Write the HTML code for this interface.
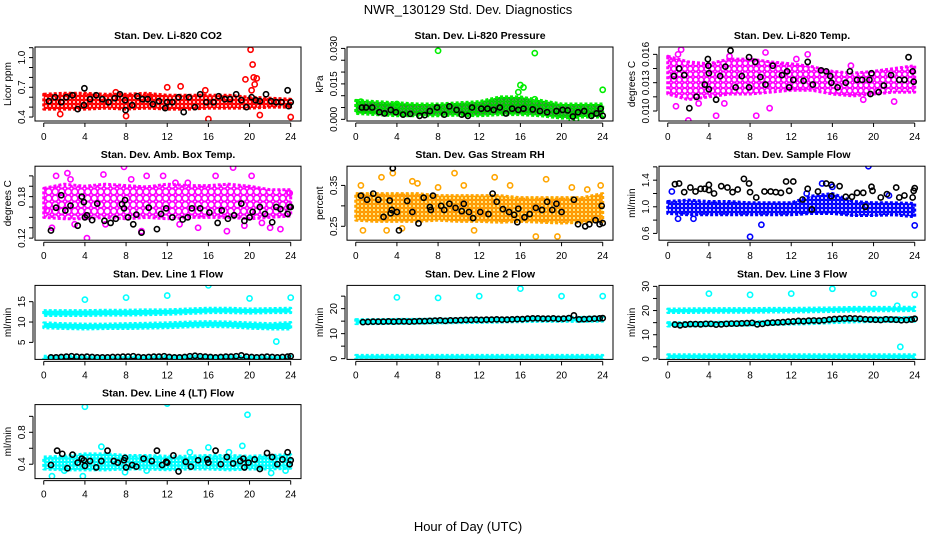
<!DOCTYPE html>
<html><head><meta charset="utf-8"><style>
body{margin:0;background:#fff}
svg{display:block;font-family:"Liberation Sans",sans-serif}
</style></head><body>
<svg id="chart" width="936" height="540" viewBox="0 0 936 540" xmlns="http://www.w3.org/2000/svg">
<text x="468" y="14" font-size="13" text-anchor="middle">NWR_130129  Std. Dev. Diagnostics</text>
<text x="468" y="531" font-size="13" text-anchor="middle">Hour of Day (UTC)</text>
</svg>
<script>
const bandHours=[0,2,4,6,8,10,12,14,16,18,20,22,24];
const xTicks=[0,4,8,12,16,20,24];
const blackHours=[0.7,1.2,1.7,2.2,2.7,3.2,3.7,4.2,4.7,5.2,5.7,6.2,6.7,7.2,7.7,8.2,8.7,9.2,9.7,10.2,10.7,11.2,11.7,12.2,12.7,13.2,13.7,14.2,14.7,15.2,15.7,16.2,16.7,17.2,17.7,18.2,18.7,19.2,19.7,20.2,20.7,21.2,21.7,22.2,22.7,23.2,23.7,24];

const co2Lo=[0.48,0.48,0.48,0.49,0.48,0.49,0.48,0.48,0.49,0.49,0.49,0.5,0.5];
const co2Hi=[0.63,0.64,0.64,0.63,0.63,0.64,0.62,0.62,0.62,0.62,0.6,0.59,0.58];
const co2OutH=[20.1,20.3,20.4,20.7,19.6,20.5,20.2,21,24,16,13.3,12,1.6,8,15.7,7];
const co2OutV=[1.08,0.93,0.80,0.79,0.78,0.73,0.67,0.42,0.40,0.38,0.71,0.70,0.43,0.41,0.67,0.65];
const co2BkH=[0.5,1.1,1.7,2.2,2.8,3.3,3.9,3.95,4.5,5.1,5.7,6.3,6.9,7.4,7.9,7.95,8.6,9.1,9.6,10.1,10.6,11.2,11.8,12,12.5,13.1,13.6,14.1,14.7,15.2,15.8,16.5,17,17.6,18.1,18.7,19.2,19.7,20.2,20.6,21,21.6,22.1,22.6,23.1,23.7,23.8,24];
const co2BkV=[0.56,0.6,0.55,0.6,0.62,0.48,0.52,0.69,0.58,0.62,0.58,0.55,0.59,0.63,0.57,0.47,0.52,0.61,0.58,0.58,0.53,0.56,0.49,0.55,0.55,0.60,0.45,0.6,0.5,0.63,0.55,0.55,0.61,0.58,0.58,0.63,0.57,0.5,0.6,0.57,0.56,0.63,0.56,0.55,0.55,0.67,0.51,0.55];

const presLo=[0.0025,0.002,0.0015,0.0015,0.0015,0.0018,0.0015,0.002,0.002,0.0015,0.0005,0.001,0.001];
const presHi=[0.008,0.0075,0.007,0.0065,0.0065,0.007,0.0075,0.0095,0.0095,0.008,0.0065,0.0065,0.0065];
const presOutH=[8,17.4,24,16,16.3,15.8,17.4,0.5,4,21,21.4];
const presOutV=[0.029,0.028,0.0125,0.0145,0.0135,0.0115,0.0085,0.0075,0.0065,-0.0003,0.0];
const presBkH=[0.6,1,1.6,2.3,2.8,3.4,3.9,4.6,5.3,6.2,6.7,7.2,7.9,8.6,9.1,9.8,10.3,10.9,11.3,12.2,12.8,13.4,14,14.6,15.2,15.8,16.3,17.2,17.9,18.6,19.5,20.1,20.6,21.1,21.6,22.2,22.9,23.4,23.8,24];
const presBkV=[0.005,0.005,0.005,0.003,0.0025,0.004,0.003,0.002,0.0023,0.0015,0.0018,0.0035,0.005,0.002,0.0055,0.004,0.002,0.0015,0.005,0.0045,0.0045,0.004,0.005,0.0025,0.0045,0.004,0.0045,0.0042,0.0035,0.003,0.0035,0.004,0.0038,0.0012,0.003,0.0035,0.0015,0.0025,0.0045,0.0015];

const tempLo=[0.0118,0.0112,0.0115,0.0118,0.0118,0.012,0.0122,0.0122,0.0118,0.0116,0.0118,0.012,0.012];
const tempHi=[0.0158,0.0152,0.015,0.0155,0.0155,0.0152,0.015,0.0147,0.0142,0.014,0.0142,0.0145,0.0148];
const tempOutH=[0.5,2,4.7,9.5,8.6,1,17.8,13.6,0.8,3,6,9.9,12.5,19,22,1.3,5.5];
const tempOutV=[0.0173,0.009,0.0095,0.0162,0.0095,0.016,0.0148,0.016,0.0105,0.0108,0.0158,0.0103,0.0155,0.0112,0.011,0.0165,0.0108];
const tempBkH=[0.6,1.1,1.6,2.1,2.8,3.6,3.9,3.95,4,4,4.7,5.1,5.6,6.1,6.6,7.2,7.9,7.9,8.5,9,9.5,10.2,11.1,11.6,11.8,12.2,13.2,13.6,14.1,14.9,15.4,15.8,15.9,16.5,17.3,17.7,18.4,18.9,19.6,19.7,19.8,20.5,21,21.7,22.5,23,23.4,23.8,23.9];
const tempBkV=[0.0137,0.0145,0.0138,0.0103,0.0115,0.0128,0.0155,0.0148,0.014,0.0123,0.0112,0.0137,0.0147,0.0164,0.0125,0.0137,0.0157,0.0125,0.0152,0.0136,0.0128,0.0148,0.0138,0.0142,0.0125,0.0133,0.0132,0.0152,0.0128,0.0143,0.0142,0.0137,0.013,0.0125,0.013,0.0142,0.0133,0.0133,0.0133,0.0118,0.014,0.012,0.0127,0.0138,0.0133,0.0133,0.0157,0.0142,0.0131];

const ambLo=[0.15,0.148,0.148,0.15,0.148,0.15,0.148,0.15,0.15,0.15,0.148,0.15,0.152];
const ambHi=[0.192,0.198,0.195,0.198,0.196,0.194,0.198,0.196,0.196,0.198,0.195,0.19,0.19];
const ambOutH=[0.8,1.2,2.3,4.2,5.8,7.8,10,11.6,14,16.7,18.4,20.2,22,23,23.9,2.6,9.5,17.8,6,15,3,8.5,12.8,19.5,21.2,0.3,13.2];
const ambOutV=[0.135,0.21,0.214,0.12,0.212,0.223,0.21,0.21,0.2,0.21,0.222,0.21,0.135,0.133,0.185,0.205,0.13,0.13,0.14,0.135,0.14,0.205,0.2,0.138,0.142,0.16,0.14];
const ambBkH=[0.7,1.2,1.7,2.1,2.6,3.3,3.7,3.9,4,4.2,4.7,5.2,5.9,6.5,7,7.6,7.8,7.9,8.2,8.7,9,9.5,10.2,11,11.4,11.9,12.5,13.5,14,14.4,15.2,16.1,16.9,17.3,17.9,18.5,19.2,19.5,20,20.3,21,21.5,22.2,22.6,23,23.7,23.9,24];
const ambBkV=[0.131,0.164,0.182,0.16,0.167,0.138,0.18,0.172,0.15,0.153,0.146,0.17,0.145,0.142,0.148,0.169,0.163,0.175,0.15,0.14,0.154,0.128,0.164,0.133,0.155,0.163,0.15,0.147,0.15,0.163,0.163,0.157,0.142,0.16,0.148,0.153,0.17,0.145,0.15,0.158,0.165,0.155,0.143,0.165,0.162,0.155,0.165,0.165];

const rhLo=[0.265,0.262,0.262,0.262,0.265,0.262,0.262,0.26,0.262,0.26,0.258,0.26,0.262];
const rhHi=[0.33,0.33,0.33,0.33,0.325,0.325,0.325,0.325,0.32,0.32,0.32,0.32,0.33];
const rhOutH=[0.5,2.5,3.6,5.5,9.6,13.5,23.8,3,11.5,17.5,19.6,0.7,6,8,15,21,4.5,18.5,10.5,22.5];
const rhOutV=[0.35,0.37,0.38,0.36,0.38,0.37,0.35,0.24,0.24,0.225,0.225,0.24,0.355,0.345,0.35,0.345,0.245,0.365,0.35,0.34];
const rhBkH=[0.5,1.1,1.7,2.2,2.7,3.3,3.4,3.5,3.6,4,4.2,5,5.5,6.1,6.6,7.2,7.3,7.5,8.3,8.6,9.1,9.7,10.3,10.5,11,11.4,12.1,12.9,13.3,13.7,14.3,14.9,15.4,15.7,15.8,16.4,16.9,17.5,18.1,18.6,19.1,19.5,20,21.2,21.6,22.3,22.7,23.3,23.7,23.9,24];
const rhBkV=[0.325,0.315,0.33,0.315,0.273,0.313,0.282,0.29,0.392,0.285,0.24,0.312,0.285,0.257,0.32,0.297,0.29,0.325,0.3,0.29,0.305,0.295,0.287,0.305,0.285,0.27,0.285,0.28,0.33,0.31,0.292,0.285,0.278,0.26,0.293,0.272,0.28,0.295,0.29,0.31,0.29,0.305,0.285,0.315,0.255,0.25,0.255,0.265,0.255,0.3,0.258];

const sfLo=[0.9,0.88,0.88,0.88,0.88,0.88,0.88,0.9,0.9,0.87,0.87,0.88,0.85];
const sfHi=[1.08,1.1,1.08,1.08,1.06,1.06,1.06,1.16,1.2,1.08,1.06,1.06,1.05];
const sfOutH=[19.5,20.3,8,9.1,24,1,0.4,2.5,15,16,13.5,21.5];
const sfOutV=[1.61,1.66,0.55,0.73,0.72,0.82,1.23,0.82,1.35,1.3,1.2,1.17];
const sfBkH=[0.7,1.1,1.6,2.2,2.7,3.2,3.6,4,4,4.5,5.2,5.8,6.3,6.8,7.4,7.9,8,8.6,9.4,10,10.5,11,11.5,11.8,12.2,13.1,13.6,14,14.6,15.4,15.9,15.9,16.7,17.3,17.9,18.4,19,19.2,19.8,19.9,20.7,21.3,22.2,22.5,23,23.8,23.9,24];
const sfBkV=[1.34,1.35,1.22,1.29,1.23,1.27,1.27,1.33,1.25,1.2,1.31,1.29,1.22,1.26,1.42,1.35,1.22,1.14,1.23,1.23,1.22,1.21,1.38,1.24,1.38,1.11,1.27,0.96,1.23,1.35,1.33,1.16,1.31,1.15,1.15,1.21,1.21,1.0,1.3,1.24,1.14,1.19,1.29,1.14,1.17,1.14,1.24,1.28];

const l1aLo=[11.6,11.6,11.6,11.7,11.7,11.8,11.9,12.1,12.3,12.3,12.2,12.3,12.3];
const l1aHi=[12.8,12.8,12.8,12.9,12.9,13.0,13.0,13.2,13.4,13.4,13.2,13.3,13.4];
const l1bLo=[8.6,8.4,8.3,8.4,8.4,8.5,8.6,8.8,8.9,8.8,8.5,8.3,8.3];
const l1bHi=[9.8,9.6,9.5,9.5,9.6,9.7,9.8,10.0,10.1,10.0,9.8,9.6,9.9];
const l1cLo=[0.9,0.9,0.9,0.9,0.9,0.9,0.9,0.9,0.9,0.9,0.9,0.9,0.9];
const l1cHi=[1.6,1.6,1.6,1.6,1.6,1.6,1.6,1.6,1.6,1.6,1.6,1.6,1.6];
const l1OutH=[4,8,12,16,20,24,22.6];
const l1OutV=[15.5,16,16.5,19,15.8,16,5.2];
const l1BkV=[1.3,1.3,1.4,1.5,1.6,1.5,1.4,1.5,1.4,1.3,1.3,1.3,1.4,1.4,1.5,1.5,1.6,1.4,1.3,1.4,1.5,1.5,1.6,1.4,1.3,1.3,1.4,1.6,1.7,1.6,1.5,1.4,1.3,1.4,1.5,1.5,1.6,1.8,1.5,1.4,1.3,1.4,1.5,1.4,1.3,1.4,1.5,1.6];

const l2aLo=[14.0,14.0,14.1,14.2,14.3,14.4,14.5,14.6,14.8,14.9,14.9,14.9,15.0];
const l2aHi=[15.6,15.6,15.7,15.7,15.8,15.9,16,16.2,16.4,16.5,16.5,16.5,16.6];
const l2bLo=[0,0,0,0,0,0,0,0,0,0,0,0,0];
const l2bHi=[1.3,1.3,1.3,1.3,1.3,1.3,1.3,1.3,1.3,1.3,1.3,1.3,1.3];
const l2OutH=[4,8,12,16,20,24];
const l2OutV=[24.5,24.3,25,28,25,25];
const l2BkV=[14.6,14.7,14.8,14.8,14.8,14.9,14.8,14.9,14.9,14.8,14.9,15.0,15.0,15.1,15.2,15.3,15.1,15.3,15.3,15.4,15.5,15.5,15.6,15.5,15.6,15.6,15.7,15.6,15.6,15.7,15.8,15.8,16.0,16.1,16.1,16.0,16.0,16.1,15.9,16.0,16.2,17.3,15.7,15.8,15.9,16.0,16.1,16.2];

const l3aLo=[19.2,19.2,19.3,19.3,19.3,19.4,19.4,19.5,19.6,19.8,19.9,19.9,20.0];
const l3aHi=[20.6,20.7,20.8,20.8,20.8,20.9,20.9,21,21.1,21.3,21.3,21.3,21.4];
const l3bLo=[13.6,13.6,13.8,13.9,14,14.2,14.4,14.6,15,15.3,15.5,15.5,15.6];
const l3bHi=[15,15,15.1,15.2,15.3,15.5,15.7,16,16.5,16.8,17,17,17.2];
const l3cLo=[0.3,0.3,0.3,0.3,0.3,0.3,0.3,0.3,0.3,0.3,0.3,0.3,0.3];
const l3cHi=[1.7,1.7,1.7,1.7,1.7,1.7,1.7,1.7,1.7,1.7,1.7,1.7,1.7];
const l3OutH=[4,8,12,16,20,24,22.6,22.3];
const l3OutV=[27,26.5,27,29,27,26.5,5,22];
const l3BkV=[14.2,13.9,14.2,14.4,14.4,14.3,14.5,14.5,14.2,14.3,14.5,14.6,14.6,14.7,14.8,14.9,14.3,14.5,14.9,15.0,15.1,15.2,15.4,15.5,15.7,15.6,15.8,15.9,15.8,16.0,16.3,16.5,16.6,16.7,16.8,16.7,16.6,16.4,16.3,16.2,16.1,16.4,16.3,16.2,16.0,16.1,16.3,16.6];

const l4Lo=[0.34,0.33,0.33,0.33,0.34,0.34,0.33,0.34,0.34,0.33,0.34,0.34,0.35];
const l4Hi=[0.49,0.5,0.53,0.53,0.51,0.51,0.5,0.5,0.51,0.51,0.5,0.51,0.52];
const l4OutH=[4,12,19.8,5.6,16,19.3,0.8,3.8,7.9,22.1,23.5,2,10,14.2,18];
const l4OutV=[1.12,1.16,1.02,0.62,0.61,0.63,0.25,0.25,0.3,0.29,0.32,0.32,0.32,0.55,0.55];
const l4BkH=[0.7,1.3,1.8,2.3,2.8,3.3,3.7,3.9,4,4.5,5.1,5.6,6.2,6.8,7.2,7.8,7.9,8,8.6,9,9.7,10.5,11,11.5,11.9,12,12.6,13.1,13.8,14.3,15,15.9,16,16.7,17.2,17.8,18.4,19.1,19.4,19.5,19.9,20.5,21,21.7,22.2,22.7,23.2,23.7,23.9,24];
const l4BkV=[0.39,0.57,0.53,0.35,0.52,0.42,0.47,0.45,0.38,0.44,0.36,0.44,0.57,0.44,0.42,0.45,0.48,0.36,0.39,0.37,0.47,0.44,0.57,0.39,0.43,0.42,0.51,0.31,0.43,0.37,0.45,0.46,0.42,0.57,0.40,0.49,0.41,0.44,0.47,0.36,0.42,0.46,0.34,0.54,0.49,0.40,0.46,0.55,0.40,0.45];

const panels=[
 {name:'co2',col:0,row:0,title:'Stan. Dev. Li-820 CO2',ylab:'Licor ppm',ymin:0.36,ymax:1.107,ticks:[0.4,0.5,0.6,0.7,0.8,0.9,1.0,1.1],labels:[0.4,0.7,1.0],dec:1,color:'#ff0000',tex:'#ff0000',gap:4,bands:[[co2Lo,co2Hi]],outH:co2OutH,outV:co2OutV,bkH:co2BkH,bkV:co2BkV},
 {name:'pressure',col:1,row:0,title:'Stan. Dev. Li-820 Pressure',ylab:'kPa',ymin:-0.0007,ymax:0.0306,ticks:[0,0.005,0.01,0.015,0.02,0.025,0.03],labels:[0,0.015,0.03],dec:3,color:'#00ee00',tex:'#00cc00',gap:3.5,bands:[[presLo,presHi]],outH:presOutH,outV:presOutV,bkH:presBkH,bkV:presBkV},
 {name:'li820-temp',col:2,row:0,title:'Stan. Dev. Li-820 Temp.',ylab:'degrees C',ymin:0.00894,ymax:0.01678,ticks:[0.01,0.0115,0.013,0.0145,0.016],labels:[0.01,0.013,0.016],dec:3,color:'#ff00ff',tex:'#ff00ff',gap:5.5,bands:[[tempLo,tempHi]],outH:tempOutH,outV:tempOutV,bkH:tempBkH,bkV:tempBkV},
 {name:'amb-box-temp',col:0,row:1,title:'Stan. Dev. Amb. Box Temp.',ylab:'degrees C',ymin:0.117,ymax:0.224,ticks:[0.12,0.135,0.15,0.165,0.18,0.195,0.21],labels:[0.12,0.18],dec:2,color:'#ff00ff',tex:'#ff00ff',gap:6.5,bands:[[ambLo,ambHi]],outH:ambOutH,outV:ambOutV,bkH:ambBkH,bkV:ambBkV},
 {name:'gas-stream-rh',col:1,row:1,title:'Stan. Dev. Gas Stream RH',ylab:'percent',ymin:0.216,ymax:0.397,ticks:[0.25,0.3,0.35],labels:[0.25,0.35],dec:2,color:'#ffa500',tex:'#ff9900',gap:4,bands:[[rhLo,rhHi]],outH:rhOutH,outV:rhOutV,bkH:rhBkH,bkV:rhBkV},
 {name:'sample-flow',col:2,row:1,title:'Stan. Dev. Sample Flow',ylab:'ml/min',ymin:0.498,ymax:1.61,ticks:[0.6,0.8,1.0,1.2,1.4,1.6],labels:[0.6,1.0,1.4],dec:1,color:'#0000ff',tex:'#0000ff',gap:4,bands:[[sfLo,sfHi]],outH:sfOutH,outV:sfOutV,bkH:sfBkH,bkV:sfBkV},
 {name:'line1-flow',col:0,row:2,title:'Stan. Dev. Line 1 Flow',ylab:'ml/min',ymin:0.82,ymax:19.0,ticks:[5,10,15],labels:[5,10,15],dec:0,color:'#00ffff',tex:'#00ffff',gap:0,bands:[[l1aLo,l1aHi],[l1bLo,l1bHi],[l1cLo,l1cHi]],outH:l1OutH,outV:l1OutV,bkH:blackHours,bkV:l1BkV},
 {name:'line2-flow',col:1,row:2,title:'Stan. Dev. Line 2 Flow',ylab:'ml/min',ymin:-0.3,ymax:29.3,ticks:[0,5,10,15,20,25],labels:[0,10,20],dec:0,color:'#00ffff',tex:'#00ffff',gap:0,bands:[[l2aLo,l2aHi],[l2bLo,l2bHi]],outH:l2OutH,outV:l2OutV,bkH:blackHours,bkV:l2BkV},
 {name:'line3-flow',col:2,row:2,title:'Stan. Dev. Line 3 Flow',ylab:'ml/min',ymin:-0.2,ymax:30.4,ticks:[0,5,10,15,20,25,30],labels:[0,10,20,30],dec:0,color:'#00ffff',tex:'#00ffff',gap:0,bands:[[l3aLo,l3aHi],[l3bLo,l3bHi],[l3cLo,l3cHi]],outH:l3OutH,outV:l3OutV,bkH:blackHours,bkV:l3BkV},
 {name:'line4-flow',col:0,row:3,title:'Stan. Dev. Line 4 (LT) Flow',ylab:'ml/min',ymin:0.22,ymax:1.147,ticks:[0.4,0.6,0.8,1.0],labels:[0.4,0.8],dec:1,color:'#00ffff',tex:'#00ffff',gap:3.5,bands:[[l4Lo,l4Hi]],outH:l4OutH,outV:l4OutV,bkH:l4BkH,bkV:l4BkV}
];

const NS='http://www.w3.org/2000/svg';
const svg=document.getElementById('chart');
function mk(tag,attrs,parent){const e=document.createElementNS(NS,tag);for(const k in attrs)e.setAttribute(k,attrs[k]);(parent||svg).appendChild(e);return e;}
const defs=mk('defs',{});
const BOXW=266,BOXH=74,XMIN=-0.85,XMAX=25.0;
panels.forEach(p=>{
  let fillRef=p.color;
  if(p.gap>0){
    const pid='pat-'+p.name;
    const pat=mk('pattern',{id:pid,width:p.gap,height:p.gap,patternUnits:'userSpaceOnUse'},defs);
    mk('rect',{x:0,y:0,width:p.gap,height:p.gap,fill:'#fff'},pat);
    mk('circle',{cx:p.gap/2,cy:p.gap/2,r:p.gap/2-0.2,fill:'none',stroke:p.tex,'stroke-width':1.6},pat);
    if(p.name==='pressure'||p.name==='gas-stream-rh'){
      mk('rect',{x:p.gap/2-0.5,y:p.gap/2-0.5,width:1,height:1,fill:p.name==='pressure'?'#000':'#ffff00'},pat);
    }
    fillRef='url(#'+pid+')';
  }
  const L=35+p.col*312, T=47+p.row*119.2, B=T+BOXH, R=L+BOXW;
  const xs=h=>L+(h-XMIN)/(XMAX-XMIN)*BOXW;
  const ys=v=>B-(v-p.ymin)/(p.ymax-p.ymin)*BOXH;
  const g=mk('g',{});
  
  
  const cp=mk('clipPath',{id:'clip-'+p.name},g);
  mk('rect',{x:L,y:T,width:BOXW,height:BOXH},cp);
  const t=mk('text',{x:(L+R)/2,y:T-8,'font-size':10.5,'font-weight':'bold','text-anchor':'middle'},g);
  t.textContent=p.title;
  
  
  const plot=mk('g',{'clip-path':'url(#clip-'+p.name+')'},g);
  p.bands.forEach((bd,bi)=>{
    let pts=bandHours.map((h,i)=>xs(h)+','+ys(bd[1][i]));
    pts=pts.concat(bandHours.map((h,i)=>xs(h)+','+ys(bd[0][i])).reverse());
    const poly=mk('polygon',{points:pts.join(' '),fill:fillRef,stroke:p.color,'stroke-width':3,'stroke-dasharray':'3 2','stroke-linejoin':'round'},plot);
    
    
  });
  p.outH.forEach((h,i)=>{
    const c=mk('circle',{cx:xs(h),cy:ys(p.outV[i]),r:2.6,fill:'none',stroke:p.color,'stroke-width':1.6},plot);
    
    
  });
  p.bkH.forEach((h,i)=>{
    const c=mk('circle',{cx:xs(h),cy:ys(p.bkV[i]),r:2.6,fill:'none',stroke:'#000','stroke-width':1.6},plot);
    
    
  });
  const box=mk('rect',{x:L,y:T,width:BOXW,height:BOXH,fill:'none',stroke:'#000','stroke-width':1},g);
  
  
  const xa=mk('g',{},g);
  
  
  mk('line',{x1:xs(0),x2:xs(24),y1:B+2,y2:B+2,stroke:'#000'},xa);
  xTicks.forEach(v=>{
    mk('line',{x1:xs(v),x2:xs(v),y1:B+2,y2:B+6,stroke:'#000'},xa);
    const tl=mk('text',{x:xs(v),y:B+19,'font-size':10,'text-anchor':'middle'},xa);
    tl.textContent=v;
  });
  const ya=mk('g',{},g);
  
  
  const tk=p.ticks;
  mk('line',{x1:L-2,x2:L-2,y1:ys(tk[0]),y2:ys(tk[tk.length-1]),stroke:'#000'},ya);
  tk.forEach(v=>{mk('line',{x1:L-6,x2:L-2,y1:ys(v),y2:ys(v),stroke:'#000'},ya);});
  p.labels.forEach(v=>{
    const x=L-10,y=ys(v);
    const tl=mk('text',{x:x,y:y,'font-size':10,'text-anchor':'middle',transform:'rotate(-90 '+x+' '+y+')'},ya);
    tl.textContent=v.toFixed(p.dec);
  });
  const yx=L-24,yy=(T+B)/2;
  const yl=mk('text',{x:yx,y:yy,'font-size':10,'text-anchor':'middle',transform:'rotate(-90 '+yx+' '+yy+')'},g);
  yl.textContent=p.ylab;
  
  
});
</script>
</body></html>
